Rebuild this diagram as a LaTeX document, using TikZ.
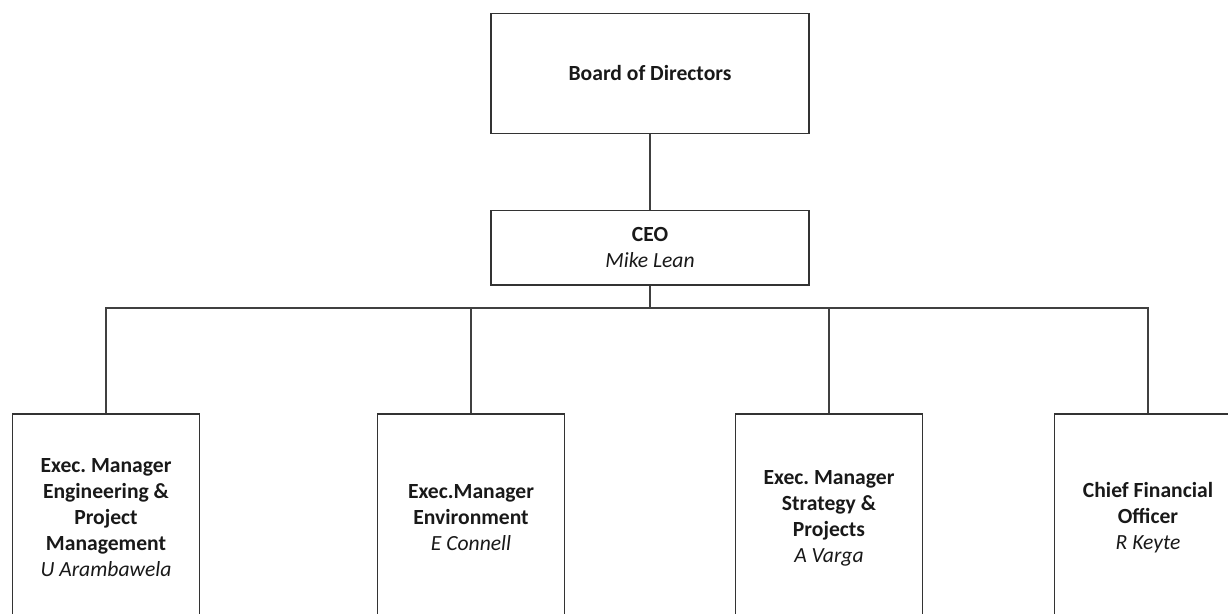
\documentclass[tikz,border=0pt]{standalone}
\usepackage{fontspec}
\setmainfont{Carlito}
\usetikzlibrary{positioning}
\frenchspacing

\tikzset{
  box/.style={draw=black!80, line width=1pt, align=center, inner sep=2pt,
    text=black!90, font=\fontsize{16.2}{19.5}\selectfont},
  topbox/.style={box, minimum width=238.5pt, minimum height=90pt},
  ceobox/.style={box, minimum width=238.5pt, minimum height=56pt},
  execbox/.style={box, minimum width=140pt, minimum height=156pt},
  link/.style={draw=black!75, line width=1pt}
}

\begin{document}
\begin{tikzpicture}[x=0.75pt,y=-0.75pt]
            \useasboundingbox (0,0) rectangle (1228,614);
            \clip (0,0) rectangle (1228,614);
            % top of the chart
            \node[topbox] (board) at (650,73.3) {\textbf{Board of Directors}};
            \node[ceobox] (ceo) at (650,247.5) {\textbf{CEO}\\\textit{Mike Lean}};
            \coordinate (bus) at (650,308);
            % executives
            \node[execbox] (eng) at (106,518) {\textbf{Exec. Manager}\\\textbf{Engineering \&}\\\textbf{Project}\\\textbf{Management}\\\textit{U Arambawela}};
            \node[execbox] (env) at (471,518) {\textbf{Exec.Manager}\\\textbf{Environment}\\\textit{E Connell}};
            \node[execbox] (strat) at (829,518) {\textbf{Exec. Manager}\\\textbf{Strategy \&}\\\textbf{Projects}\\\textit{A Varga}};
            \node[execbox] (cfo) at (1148,518) {\textbf{Chief Financial}\\\textbf{Officer}\\\textit{R Keyte}};
            % links
            \draw[link] (board) -- (ceo);
            \draw[link, line width=1.6pt] (ceo) -- (bus);
            \draw[link] (eng) |- (bus) -| (cfo);
            \foreach \n in {env,strat}
                \draw[link] (\n) -- (\n |- bus);
        \end{tikzpicture}
\end{document}
